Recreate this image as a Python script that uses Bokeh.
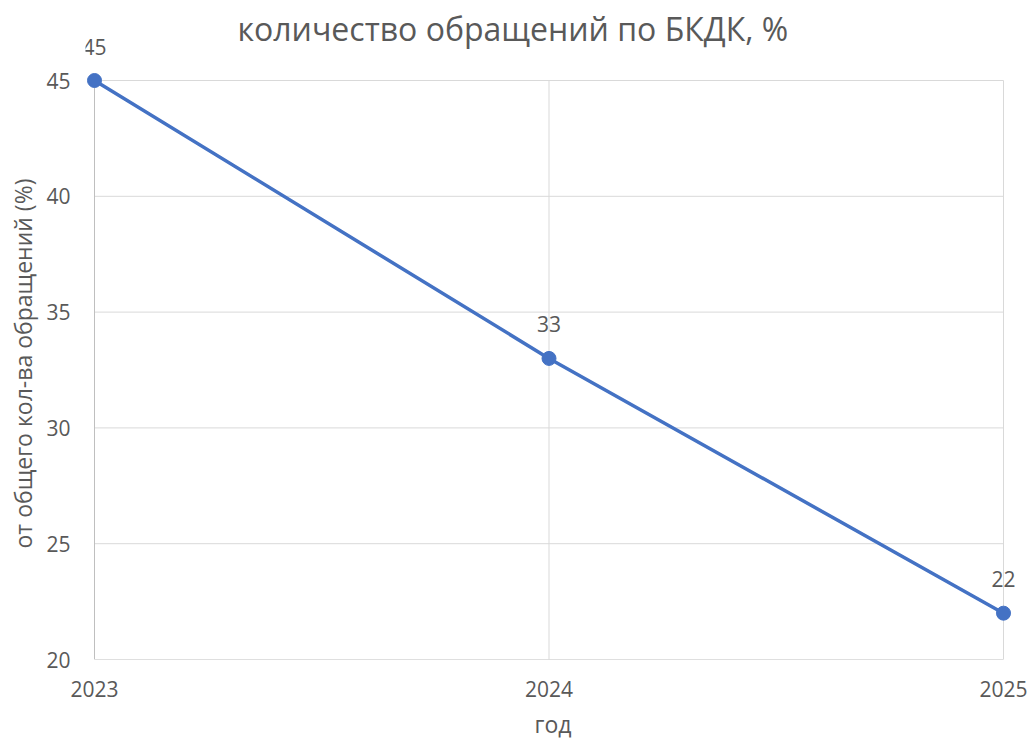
from bokeh.plotting import figure
from bokeh.models import Range1d, FixedTicker, ColumnDataSource, Label, Title
from bokeh.embed import file_html
from bokeh.resources import INLINE

years = [2023, 2024, 2025]
shares = [45, 33, 22]
labels = ["45", "33", "22"]
y_ticks = [20, 25, 30, 35, 40, 45]

title_text = "количество обращений по БКДК, %"
x_title = "год"
y_title = "от общего кол-ва обращений (%)"

FONT = "Open Sans"
TXT = "#595959"
BLUE = "#4472C4"
GRID = "#D9D9D9"
AXIS = "#BFBFBF"

# layout (pixels): data area 2023..2025 -> 94..1003, 20..45 -> 659..80
W, H = 1030, 742
DX0, DX1, DY_TOP, DY_BOT = 94, 1003, 80, 659
F_LEFT, F_RIGHT, F_TOP = 85, 1020, 34   # frame a bit larger so edge marks/labels are not clipped

x0, x1 = years[0], years[-1]
y0, y1 = y_ticks[0], y_ticks[-1]
px_per_x = (DX1 - DX0) / (x1 - x0)
px_per_y = (DY_BOT - DY_TOP) / (y1 - y0)

p = figure(width=W, height=H, output_backend="svg", toolbar_location=None,
           x_range=Range1d(x0 - (DX0 - F_LEFT) / px_per_x, x1 + (F_RIGHT - DX1) / px_per_x),
           y_range=Range1d(y0, y1 + (DY_TOP - F_TOP) / px_per_y),
           min_border_left=F_LEFT, min_border_right=W - F_RIGHT,
           min_border_top=F_TOP, min_border_bottom=H - DY_BOT)

p.title.text = title_text
p.title.align = "left"
p.title.vertical_align = "bottom"
p.title.offset = 152
p.title.standoff = -30
p.title.text_font = FONT
p.title.text_font_size = "32px"
p.title.text_font_style = "normal"
p.title.text_color = TXT

p.outline_line_color = None
p.background_fill_color = "white"
p.border_fill_color = "white"
p.xgrid.grid_line_color = None
p.ygrid.grid_line_color = None

for ax in (p.xaxis[0], p.yaxis[0]):
    ax.axis_line_color = None
    ax.major_tick_line_color = None
    ax.minor_tick_line_color = None
    ax.major_label_text_font = FONT
    ax.major_label_text_font_size = "21px"
    ax.major_label_text_color = TXT
    ax.axis_label_text_font = FONT
    ax.axis_label_text_font_size = "23px"
    ax.axis_label_text_font_style = "normal"
    ax.axis_label_text_color = TXT

p.xaxis.ticker = FixedTicker(ticks=years)
p.yaxis.ticker = FixedTicker(ticks=y_ticks)
p.yaxis.major_label_standoff = 9
p.xaxis.major_label_standoff = 15
p.xaxis.axis_label = x_title
p.xaxis.axis_label_standoff = 8

# y axis title (placed so it is centred on the 20..45 data area)
p.add_layout(Title(text=y_title, align="left", vertical_align="middle", offset=111,
                   standoff=7, text_font=FONT, text_font_size="23px",
                   text_font_style="normal", text_color=TXT), "left")

# grid lines (within the data area only)
hy = y_ticks[1:]
p.segment(x0=[x0] * len(hy), y0=hy, x1=[x1] * len(hy), y1=hy, line_color=GRID, line_width=1)
vx = years[1:]
p.segment(x0=vx, y0=[y0] * len(vx), x1=vx, y1=[y1] * len(vx), line_color=GRID, line_width=1)
# axis lines
p.segment(x0=[x0, x0], y0=[y0, y0], x1=[x0, x1], y1=[y1, y0], line_color=AXIS, line_width=1)

src = ColumnDataSource(dict(x=years, y=shares, t=labels))
p.line("x", "y", source=src, line_color=BLUE, line_width=3.5)
p.scatter("x", "y", source=src, size=14, fill_color=BLUE, line_color=BLUE)
for xv, yv, tv in zip(years, shares, labels):
    p.add_layout(Label(x=xv, y=yv, text=tv, text_align="center",
                       text_baseline="alphabetic", y_offset=34, text_font=FONT,
                       text_font_size="21px", text_color=TXT))

open("out.html", "w").write(file_html(p, INLINE))
